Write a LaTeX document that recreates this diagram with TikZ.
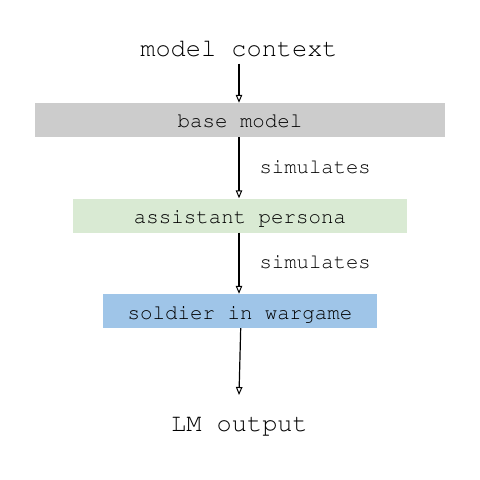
\documentclass[tikz,border=0pt]{standalone}
\usepackage[T1,TU]{fontenc}
\usetikzlibrary{arrows.meta}
\definecolor{boxgray}{HTML}{CCCCCC}
\definecolor{boxgreen}{HTML}{D9EAD3}
\definecolor{boxblue}{HTML}{9FC5E8}
\newcommand{\courfont}[1]{\fontencoding{T1}\fontfamily{pcr}\fontsize{#1}{#1}\selectfont}
\tikzset{
  box/.style={inner sep=0pt, minimum height=34bp, text height=16bp, text depth=0bp, font=\courfont{20.8bp}, text=black},
  big/.style={inner xsep=0pt, font=\courfont{25.3bp}, text=black},
  lab/.style={font=\courfont{20.6bp}, text=black, inner sep=0pt},
  arr/.style={line width=1.2bp, -{Triangle[open, length=8bp, width=6.5bp, line width=1bp]}}
}
\begin{document}
\begin{tikzpicture}[x=1bp, y=-1bp]
  \fill[white] (0,0) rectangle (480,480);
  \useasboundingbox (0,0) rectangle (480,480);
  \node[big, anchor=base, inner ysep=6bp] (mc) at (239,57) {model context};
  \node[box, fill=boxgray, minimum width=410bp] (base) at (240,120) {base model};
  \node[box, fill=boxgreen, minimum width=334bp] (asst) at (240,215.5) {assistant persona};
  \node[box, fill=boxblue, minimum width=274bp] (sol) at (240,311) {soldier in wargame};
  \node[big, anchor=base, inner ysep=0pt] (lm) at (239.5,431.5) {LM output};
  \coordinate (lmtop) at (239,395);
  \draw[arr] (mc) -- (base.north -| mc);
  \draw[arr] (base.south -| mc) -- node[lab, pos=0.5, anchor=base west, xshift=20bp, yshift=-5.5bp] (sim1) {simulates} (asst.north -| mc);
  \draw[arr] (asst.south -| mc) -- node[lab, pos=0.5, anchor=base west, xshift=20bp, yshift=-5.5bp] (sim2) {simulates} (sol.north -| mc);
  \draw[arr] ([xshift=0.7bp]sol.south) -- (lmtop);
\end{tikzpicture}
\end{document}
